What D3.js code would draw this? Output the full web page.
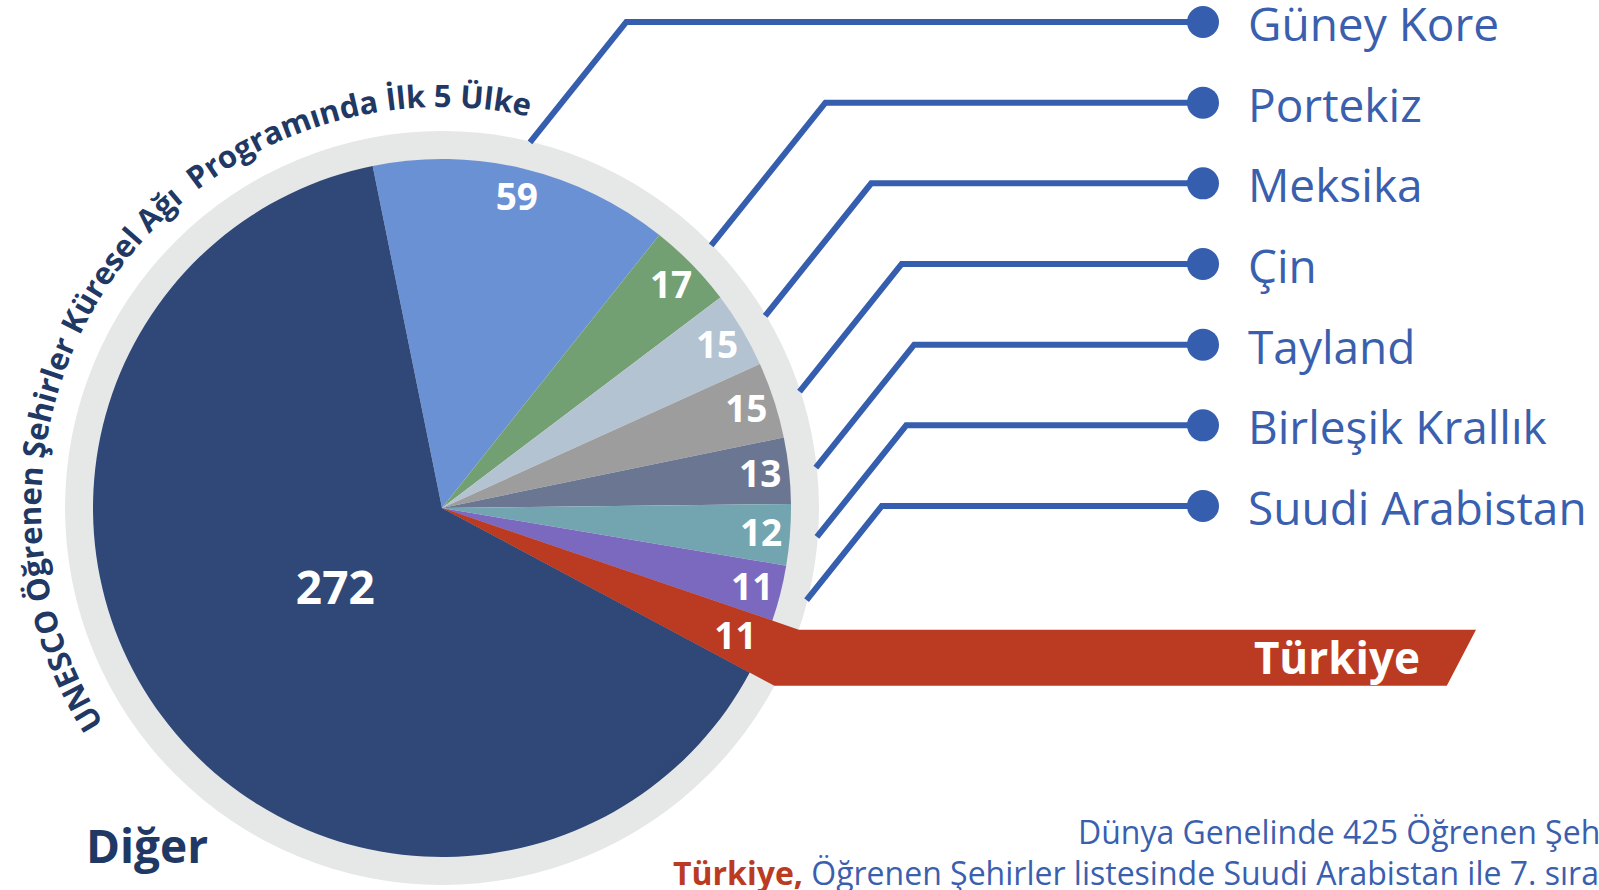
<!DOCTYPE html>
<html>
<head>
<meta charset="utf-8">
<script src="https://cdn.jsdelivr.net/npm/d3@7"></script>
<style>
   body { margin: 0; background: #fff; }
   svg { display: block; }
</style>
</head>
<body>
<svg width="1599" height="890"></svg>
<script>
// veriler: ülkeler ve öğrenen şehir sayıları
const countries = ["Güney Kore", "Portekiz", "Meksika", "Çin", "Tayland", "Birleşik Krallık", "Suudi Arabistan", "Türkiye", "Diğer"];
const cityCounts = [59, 17, 15, 15, 13, 12, 11, 11, 272];
const titleText = "UNESCO Öğrenen Şehirler Küresel Ağı  Programında İlk 5 Ülke";
const noteLine1 = "Dünya Genelinde 425 Öğrenen Şehir bulunmaktadır.";
const noteLead = "Türkiye,";
const noteLine2 = " Öğrenen Şehirler listesinde Suudi Arabistan ile 7. sırayı paylaşmaktadır.";

// dilim renkleri
const sliceColors = ["#6b91d5", "#72a072", "#b4c3d1", "#9d9d9d", "#6b7792", "#73a5b0", "#7b69c0", "#bb3b22", "url(#digerFill)"];
const lineBlue = "#365eae";
const textBlue = "#3a5fae";
const navy = "#1f3864";
const font = "'Open Sans', 'Noto Sans', sans-serif";

const attr_area = {
   width: 1599,
   height: 890,
   cx: 442,
   cy: 508,
   r: 349,
   ringOuter: 377
};

function polar(angle, r) {
   return [attr_area.cx + r * Math.sin(angle), attr_area.cy - r * Math.cos(angle)];
}

function drawChart() {
   const svg = d3.select("svg");
   svg.selectAll('*').remove();

   const data = countries.map((name, i) => ({name: name, value: cityCounts[i], color: sliceColors[i]}));
   const pie = d3.pie()
      .value(d => d.value)
      .sort(null)
      .startAngle(-0.2)
      .endAngle(2 * Math.PI - 0.2);
   const arcs = pie(data);
   const arc = d3.arc().innerRadius(0).outerRadius(attr_area.r);

   // "Diğer" dilimi için koyu lacivert gradyan
   const defs = svg.append("defs");
   const grad = defs.append("radialGradient")
      .attr("id", "digerFill")
      .attr("gradientUnits", "userSpaceOnUse")
      .attr("cx", attr_area.cx)
      .attr("cy", attr_area.cy)
      .attr("r", attr_area.r);
   grad.append("stop").attr("offset", 0).attr("stop-color", "#24375c");
   grad.append("stop").attr("offset", 1).attr("stop-color", "#2f4878");

   // gri halka
   svg.append("path")
      .attr("transform", `translate(${attr_area.cx}, ${attr_area.cy})`)
      .attr("d", d3.arc()({innerRadius: attr_area.r - 1, outerRadius: attr_area.ringOuter, startAngle: 0, endAngle: 2 * Math.PI}))
      .attr("fill", "#e6e8e7");

   // dilimler
   svg.append("g")
      .attr("transform", `translate(${attr_area.cx}, ${attr_area.cy})`)
      .selectAll("path")
      .data(arcs)
      .enter()
      .append("path")
      .attr("d", arc)
      .attr("fill", d => d.data.color);

   // Türkiye şeridi: dilimin kenarlarından sağa uzanır
   const tr = arcs[7];
   const p1 = polar(tr.startAngle, attr_area.ringOuter);
   const p2 = polar(tr.endAngle, attr_area.ringOuter);
   const bandH = p2[1] - p1[1];
   const tipX = 1476;
   const band = [[attr_area.cx, attr_area.cy], p1, [tipX, p1[1]], [tipX - bandH * 0.52, p2[1]], p2];
   svg.append("path")
      .attr("d", d3.line()(band) + "Z")
      .attr("fill", tr.data.color);

   svg.append("text")
      .attr("x", tipX - 56)
      .attr("y", (p1[1] + p2[1]) / 2 + 16)
      .attr("text-anchor", "end")
      .attr("font-family", font)
      .attr("font-weight", 700)
      .attr("font-size", 44)
      .attr("fill", "#fff")
      .text(tr.data.name);

   // bağlantı çizgileri, noktalar ve ülke adları
   const named = arcs.slice(0, 7);
   const rowY = d3.scaleLinear().domain([0, named.length - 1]).range([22, 506]);
   const dotX = 1203;

   named.forEach((d, i) => {
      const mid = (d.startAngle + d.endAngle) / 2;
      const start = polar(mid, attr_area.ringOuter - 1);
      const y = rowY(i);
      const elbow = [start[0] + 0.8 * (start[1] - y), y];
      svg.append("path")
         .attr("d", d3.line()([start, elbow, [dotX, y]]))
         .attr("fill", "none")
         .attr("stroke", lineBlue)
         .attr("stroke-width", 6)
         .attr("stroke-linejoin", "miter");
      svg.append("circle")
         .attr("cx", dotX)
         .attr("cy", y)
         .attr("r", 16)
         .attr("fill", lineBlue);
      svg.append("text")
         .attr("x", 1248)
         .attr("y", y + 19)
         .attr("font-family", font)
         .attr("font-size", 46)
         .attr("fill", textBlue)
         .text(d.data.name);
   });

   // dilim değerleri
   svg.selectAll(".val")
      .data(arcs)
      .enter()
      .append("text")
      .attr("class", "val")
      .attr("transform", (d, i) => {
         const mid = (d.startAngle + d.endAngle) / 2;
         const p = polar(mid, i == arcs.length - 1 ? 133 : 320);
         return `translate(${p[0]}, ${p[1]})`;
      })
      .attr("dy", "0.36em")
      .attr("text-anchor", "middle")
      .attr("font-family", font)
      .attr("font-weight", 700)
      .attr("font-size", (d, i) => i == arcs.length - 1 ? 46 : 37)
      .attr("fill", "#fff")
      .text(d => d.value);

   // "Diğer" etiketi
   svg.append("text")
      .attr("x", 86)
      .attr("y", 863)
      .attr("font-family", font)
      .attr("font-weight", 700)
      .attr("font-size", 46)
      .attr("fill", navy)
      .text(arcs[arcs.length - 1].data.name);

   // halka boyunca kavisli başlık
   const titleR = 401;
   const a0 = -122.5 * Math.PI / 180;
   const a1 = 30 * Math.PI / 180;
   const s = polar(a0, titleR), e = polar(a1, titleR);
   defs.append("path")
      .attr("id", "titleArc")
      .attr("d", `M${s[0]},${s[1]} A${titleR},${titleR} 0 0 1 ${e[0]},${e[1]}`);
   const title = svg.append("text")
      .attr("xml:space", "preserve")
      .style("white-space", "pre")
      .attr("font-family", font)
      .attr("font-weight", 700)
      .attr("font-size", 31)
      .attr("fill", navy);
   title.append("textPath")
      .attr("href", "#titleArc")
      .text(titleText);
   const target = titleR * (135 * Math.PI / 180);
   const natural = title.node().getComputedTextLength();
   title.attr("letter-spacing", (target - natural) / (titleText.length - 1));

   // alt notlar
   svg.append("text")
      .attr("x", 1078)
      .attr("y", 844)
      .attr("font-family", font)
      .attr("font-size", 32)
      .attr("fill", textBlue)
      .text(noteLine1);

   const note = svg.append("text")
      .attr("x", 673)
      .attr("y", 885)
      .attr("xml:space", "preserve")
      .style("white-space", "pre")
      .attr("font-family", font)
      .attr("font-size", 32)
      .attr("fill", textBlue);
   note.append("tspan")
      .attr("font-weight", 700)
      .attr("fill", "#bb3b22")
      .text(noteLead);
   note.append("tspan")
      .text(noteLine2);
}

drawChart();
</script>
</body>
</html>
